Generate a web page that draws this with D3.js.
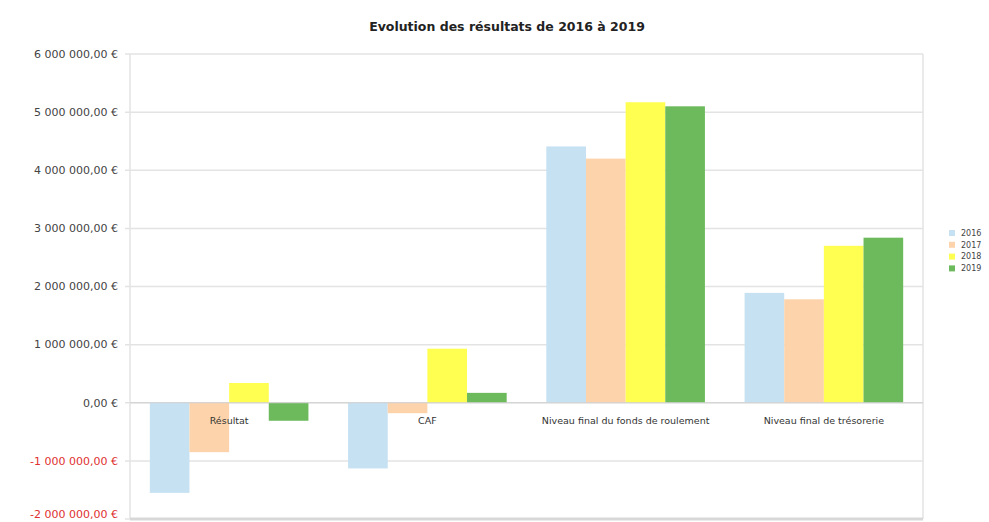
<!DOCTYPE html>
<html><head><meta charset="utf-8">
<script src="https://cdn.jsdelivr.net/npm/d3@7"></script>
<style>body{margin:0;background:#fff}svg{display:block}</style>
</head><body>
<svg id="c" width="989" height="522"></svg>
<script>
const categories = ["Résultat", "CAF", "Niveau final du fonds de roulement", "Niveau final de trésorerie"];
const years = ["2016", "2017", "2018", "2019"];
const v2016 = [-1550000, -1130000, 4410000, 1890000];
const v2017 = [-850000, -180000, 4200000, 1780000];
const v2018 = [340000, 930000, 5170000, 2700000];
const v2019 = [-310000, 170000, 5100000, 2840000];
const yTicks = [-2000000, -1000000, 0, 1000000, 2000000, 3000000, 4000000, 5000000, 6000000];
const colors = ["#c6e1f2", "#fdd3ab", "#ffff52", "#6cba5c"];
const title = "Evolution des résultats de 2016 à 2019";

const series = [v2016, v2017, v2018, v2019];
const svg = d3.select("#c");
const pL = 130, pR = 923, pT = 54, pB = 519;

const x = d3.scaleBand().domain(categories).range([pL, pR]).paddingInner(0.2).paddingOuter(0.1);
const xi = d3.scaleBand().domain(years).range([0, x.bandwidth()]);
const y = d3.scaleLinear().domain([-2000000, 6000000]).range([pB, pT]);

const loc = d3.formatLocale({decimal: ",", thousands: "\u00a0", grouping: [3], currency: ["", "\u00a0€"], minus: "-"});
const fmt = loc.format("$,.2f");

// grid
svg.append("g").selectAll("line").data(yTicks).join("line")
  .attr("x1", pL - 5).attr("x2", pR)
  .attr("y1", d => y(d)).attr("y2", d => y(d))
  .attr("stroke", "#e3e3e3").attr("stroke-width", 1.5);
// plot frame
svg.append("line").attr("x1", pL).attr("x2", pL).attr("y1", pT).attr("y2", pB).attr("stroke", "#e3e3e3").attr("stroke-width", 1.5);
svg.append("line").attr("x1", pR).attr("x2", pR).attr("y1", pT).attr("y2", pB).attr("stroke", "#e3e3e3").attr("stroke-width", 1.5);
svg.append("line").attr("x1", pL).attr("x2", pR).attr("y1", pB).attr("y2", pB).attr("stroke", "#d8d8d8").attr("stroke-width", 3);

// y axis labels
svg.append("g").selectAll("text").data(yTicks).join("text")
  .attr("x", 118).attr("y", d => Math.min(y(d), 514)).attr("dy", "0.35em")
  .attr("text-anchor", "end")
  .attr("font-family", "DejaVu Sans").attr("font-size", 11)
  .attr("fill", d => d < 0 ? "#e03030" : "#444")
  .text(d => fmt(d));

// bars
const g = svg.append("g");
categories.forEach((c, ci) => {
  years.forEach((yr, si) => {
    const v = series[si][ci];
    g.append("rect")
      .attr("x", x(c) + xi(yr))
      .attr("width", xi.bandwidth())
      .attr("y", y(Math.max(0, v)))
      .attr("height", Math.abs(y(v) - y(0)))
      .attr("fill", colors[si]);
  });
});

// zero line
svg.append("line").attr("x1", pL).attr("x2", pR).attr("y1", y(0)).attr("y2", y(0)).attr("stroke", "#d0d0d0").attr("stroke-width", 1);

// category labels
svg.append("g").selectAll("text").data(categories).join("text")
  .attr("x", d => x(d) + x.bandwidth() / 2).attr("y", y(0) + 21)
  .attr("text-anchor", "middle")
  .attr("font-family", "DejaVu Sans").attr("font-size", 9.5)
  .attr("fill", "#333")
  .text(d => d);

// title
svg.append("text").attr("x", 507).attr("y", 31).attr("text-anchor", "middle")
  .attr("font-family", "DejaVu Sans").attr("font-size", 12.5).attr("font-weight", "bold")
  .attr("fill", "#222").text(title);

// legend
const lg = svg.append("g");
years.forEach((yr, i) => {
  lg.append("rect").attr("x", 949).attr("y", 230 + i * 11.8).attr("width", 6).attr("height", 6).attr("fill", colors[i]);
  lg.append("text").attr("x", 961).attr("y", 233 + i * 11.8).attr("dy", "0.35em")
    .attr("font-family", "DejaVu Sans").attr("font-size", 8).attr("fill", "#444").text(yr);
});
</script>
</body></html>
